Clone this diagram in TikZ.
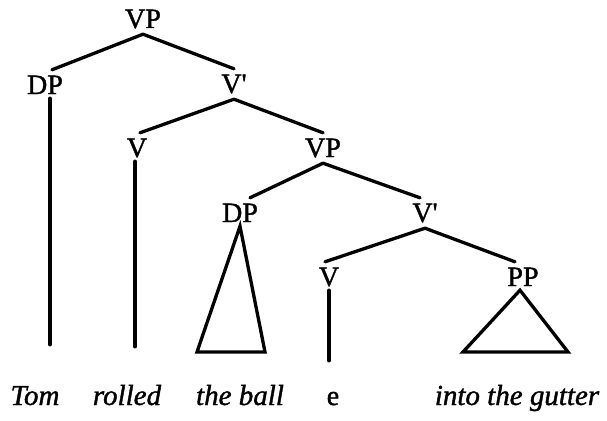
\documentclass[tikz,border=0pt]{standalone}
\usepackage{fontspec}
\setmainfont{Liberation Serif}
\newfontfamily\catfont[FakeBold=1.3]{Liberation Serif}
\newfontfamily\wordfont[FakeBold=1.3]{Liberation Serif Italic}
\begin{document}
\begin{tikzpicture}[x=1pt,y=-1pt,
  cat/.style={font=\catfont\fontsize{28}{30}\selectfont, inner sep=4pt, text height=18pt, text depth=0pt},
  word/.style={font=\wordfont\fontsize{29}{31}\selectfont, inner sep=4pt, text height=18pt, text depth=6pt},
  branch/.style={line width=3.3pt, line cap=round, line join=miter}]
\useasboundingbox (0,0) rectangle (607,420);
% categories
\node[cat] (vp)  at (143,19) {VP};
\node[cat] (dp1) at (45,85) {DP};
\node[cat] (vb1) at (234,84) {V'};
\node[cat] (v1)  at (137,148) {V};
\node[cat] (vp2) at (323,148) {VP};
\node[cat] (dp2) at (240,213) {DP};
\node[cat] (vb2) at (425,213) {V'};
\node[cat] (v2)  at (329,277) {V};
\node[cat] (pp)  at (523,277) {PP};
% words
\node[word] (tom)    at (35,399) {Tom};
\node[word] (rolled) at (127,399) {rolled};
\node[word] (ball)   at (240,399) {the ball};
\node[cat, text depth=6pt] (e) at (333,399) {e};
\node[word] (gutter) at (517,399) {into the gutter};
% triangle base corners
\coordinate (dpl) at (197,352);
\coordinate (dpr) at (265,352);
\coordinate (ppl) at (463,352);
\coordinate (ppr) at (568,352);
% branches
\draw[branch] ([yshift=-2]vp.south) -- ([xshift=7,yshift=2]dp1.north);
\draw[branch] ([yshift=-2]vp.south) -- ([yshift=2]vb1.north);
\draw[branch] ([yshift=-2]vb1.south) -- ([xshift=3,yshift=2]v1.north);
\draw[branch] ([yshift=-2]vb1.south) -- ([yshift=2]vp2.north);
\draw[branch] ([yshift=-2]vp2.south) -- ([xshift=10,yshift=2]dp2.north);
\draw[branch] ([yshift=-2]vp2.south) -- ([xshift=-5,yshift=2]vb2.north);
\draw[branch] ([yshift=-2]vb2.south) -- ([xshift=-4,yshift=2]v2.north);
\draw[branch] ([yshift=-2]vb2.south) -- ([xshift=-8,yshift=2]pp.north);
% unary lines
\draw[branch] ([xshift=5]dp1.south) -- ([xshift=15,yshift=38]tom.north);
\draw[branch] ([xshift=-2]v1.south) -- ([xshift=8,yshift=36]rolled.north);
\draw[branch] (v2.south) -- ([xshift=-4,yshift=22]e.north);
% triangles
\draw[branch] (dp2.south) -- (dpl) -- (dpr) -- cycle;
\draw[branch] ([xshift=-3]pp.south) -- (ppl) -- (ppr) -- cycle;
\end{tikzpicture}
\end{document}
